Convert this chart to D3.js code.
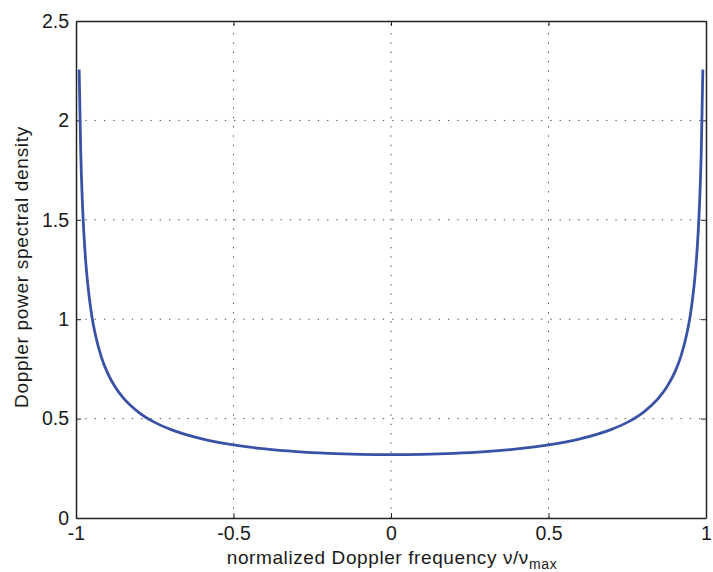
<!DOCTYPE html>
<html><head><meta charset="utf-8">
<script src="https://cdn.jsdelivr.net/npm/d3@7"></script>
<style>body{margin:0;background:#fff}svg{display:block}text{font-family:"Liberation Sans",Arial,Helvetica,sans-serif;fill:#1a1a1a}</style>
</head><body>
<svg id="c" width="713" height="572"></svg>
<script>
const nu = [-0.99,-0.985,-0.98,-0.975,-0.97,-0.96,-0.95,-0.94,-0.92,-0.9,-0.875,-0.85,-0.8,-0.75,-0.7,-0.6,-0.5,-0.4,-0.3,-0.2,-0.1,0,
             0.1,0.2,0.3,0.4,0.5,0.6,0.7,0.75,0.8,0.85,0.875,0.9,0.92,0.94,0.95,0.96,0.97,0.975,0.98,0.985,0.99];
const psd = [2.256,1.845,1.600,1.433,1.309,1.137,1.019,0.933,0.812,0.730,0.6575,0.604,0.5305,0.481,0.4457,0.3979,0.3676,0.3473,0.3337,0.3249,0.3199,0.3183,
             0.3199,0.3249,0.3337,0.3473,0.3676,0.3979,0.4457,0.481,0.5305,0.604,0.6575,0.730,0.812,0.933,1.019,1.137,1.309,1.433,1.600,1.845,2.256];
const xTicks = [-1,-0.5,0,0.5,1];
const yTicks = [0,0.5,1,1.5,2,2.5];
const xTickLabels = ["-1","-0.5","0","0.5","1"];
const yTickLabels = ["0","0.5","1","1.5","2","2.5"];

const L=76, R=706, T=21, B=518;
const svg = d3.select("#c");
const x = d3.scaleLinear().domain([-1,1]).range([L,R]);
const y = d3.scaleLinear().domain([0,2.5]).range([B,T]);

// grid
const g = svg.append("g");
xTicks.slice(1,-1).forEach(v=>{
  g.append("line").attr("x1",x(v)).attr("x2",x(v)).attr("y1",B).attr("y2",T)
   .attr("stroke","#444").attr("stroke-width",1).attr("stroke-dasharray","1.3,8");
});
yTicks.slice(1,-1).forEach(v=>{
  g.append("line").attr("x1",L).attr("x2",R).attr("y1",y(v)).attr("y2",y(v))
   .attr("stroke","#444").attr("stroke-width",1).attr("stroke-dasharray","1.3,8");
});

// axes
const fs = 19.5;
const xb = svg.append("g").attr("transform",`translate(0,${B})`)
  .call(d3.axisBottom(x).tickValues(xTicks).tickFormat((d,i)=>xTickLabels[i]).tickSizeInner(-5).tickSizeOuter(0).tickPadding(0));
xb.selectAll(".tick text").attr("dy",null).attr("y",22);
const yl = svg.append("g").attr("transform",`translate(${L},0)`)
  .call(d3.axisLeft(y).tickValues(yTicks).tickFormat((d,i)=>yTickLabels[i]).tickSizeInner(-5).tickSizeOuter(0).tickPadding(0));
yl.selectAll(".tick text").attr("x",-7);
const xt = svg.append("g").attr("transform",`translate(0,${T})`)
  .call(d3.axisTop(x).tickValues(xTicks).tickFormat("").tickSizeInner(-5).tickSizeOuter(0));
const yr = svg.append("g").attr("transform",`translate(${R},0)`)
  .call(d3.axisRight(y).tickValues(yTicks).tickFormat("").tickSizeInner(-5).tickSizeOuter(0));
[xb,yl,xt,yr].forEach(a=>{
  a.select(".domain").attr("stroke","#222").attr("stroke-width",1.5);
  a.selectAll(".tick line").attr("stroke","#222").attr("stroke-width",1);
  a.selectAll("text").attr("font-size",fs).attr("font-family","Liberation Sans, Arial, sans-serif").attr("fill","#1a1a1a");
});

// curve
const line = d3.line().x((d,i)=>x(nu[i])).y((d,i)=>y(psd[i])).curve(d3.curveMonotoneX);
svg.append("path").datum(psd).attr("d",line).attr("fill","none")
  .attr("stroke","#3a52a6").attr("stroke-width",2.8).attr("stroke-linejoin","round");

// labels
const xl = svg.append("text").attr("x",392).attr("y",564).attr("text-anchor","middle")
  .attr("font-size",19).attr("letter-spacing",0.6);
xl.append("tspan").text("normalized Doppler frequency ν/ν");
xl.append("tspan").attr("dy",5).attr("font-size",14).text("max");

svg.append("text").attr("transform",`translate(28,267) rotate(-90)`).attr("text-anchor","middle")
  .attr("font-size",19).attr("letter-spacing",0.7).text("Doppler power spectral density");
</script>
</body></html>
